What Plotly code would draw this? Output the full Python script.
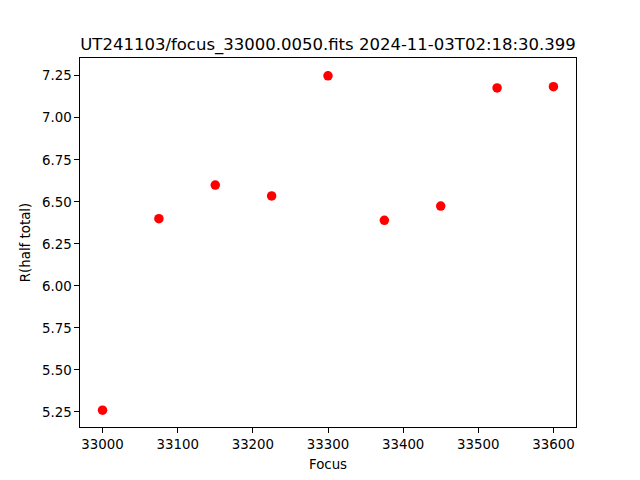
import plotly.graph_objects as go

focus = [33000, 33075, 33150, 33225, 33300, 33375, 33450, 33525, 33600]
r_half = [5.26, 6.40, 6.60, 6.535, 7.25, 6.39, 6.475, 7.178, 7.185]
title = "UT241103/focus_33000.0050.fits 2024-11-03T02:18:30.399"

fig = go.Figure(go.Scatter(x=focus, y=r_half, mode="markers",
                           marker=dict(color="red", size=9.5, line=dict(width=0))))

# page body has an 8px default margin; compensate so the plot lands where the reference's does
off = 8
font = dict(family="DejaVu Sans", size=13.33, color="black")
fig.update_layout(
    width=640, height=480,
    margin=dict(l=80 - off, r=64 + off, t=57.6 - off, b=52.8 + off, autoexpand=False),
    paper_bgcolor="white", plot_bgcolor="white",
    font=font,
    showlegend=False,
    title=dict(text=title, x=0.5, xref="paper", xanchor="center",
               y=1 - (44 - off)/480, yref="container", yanchor="middle",
               font=dict(family="DejaVu Sans", size=16.5, color="black")),
)
fig.update_xaxes(range=[32970, 33630], tick0=33000, dtick=100, tickformat="d",
                 showgrid=False, zeroline=False, automargin=False,
                 showline=True, linecolor="black", linewidth=1, mirror=True,
                 ticks="outside", ticklen=4.7, tickcolor="black",
                 title=dict(text="Focus", font=font, standoff=8))
fig.update_yaxes(range=[5.160, 7.356], tick0=5.25, dtick=0.25, tickformat=".2f",
                 showgrid=False, zeroline=False, automargin=False,
                 showline=True, linecolor="black", linewidth=1, mirror=True,
                 ticks="outside", ticklen=4.7, tickcolor="black",
                 title=dict(text="R(half total)", font=font, standoff=8))

fig.write_html("out.html")
